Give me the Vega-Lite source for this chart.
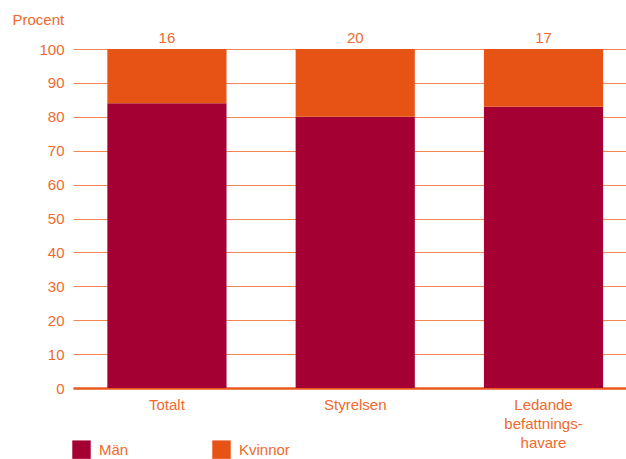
{
  "$schema": "https://vega.github.io/schema/vega-lite/v6.json",
  "width": 553,
  "height": 339,
  "autosize": {"type": "none"},
  "padding": {"left": 73, "top": 49, "right": 0, "bottom": 71},
  "background": "white",
  "config": {
    "view": {"stroke": null},
    "font": "Liberation Sans",
    "axis": {"labelFont": "Liberation Sans", "titleFont": "Liberation Sans"},
    "axisY": {
      "values": [0, 10, 20, 30, 40, 50, 60, 70, 80, 90, 100],
      "labelOverlap": false,
      "labelColor": "#ef6a2c",
      "labelFontSize": 15,
      "labelPadding": 9,
      "ticks": false,
      "domain": false,
      "grid": true,
      "gridColor": "#f07236",
      "gridWidth": 1,
      "gridOpacity": 0.85
    },
    "legend": {"labelFont": "Liberation Sans"}
  },
  "data": {
    "values": [
      {"kategori": "Totalt", "kon": "Män", "ordning": 1, "procent": 84},
      {"kategori": "Totalt", "kon": "Kvinnor", "ordning": 2, "procent": 16},
      {"kategori": "Styrelsen", "kon": "Män", "ordning": 1, "procent": 80},
      {"kategori": "Styrelsen", "kon": "Kvinnor", "ordning": 2, "procent": 20},
      {"kategori": "Ledande befattningshavare", "kon": "Män", "ordning": 1, "procent": 83},
      {"kategori": "Ledande befattningshavare", "kon": "Kvinnor", "ordning": 2, "procent": 17}
    ]
  },
  "encoding": {
    "x": {
      "field": "kategori",
      "type": "nominal",
      "sort": ["Totalt", "Styrelsen", "Ledande befattningshavare"],
      "scale": {"paddingInner": 0.367, "paddingOuter": 0.152, "align": 0.6},
      "axis": {
        "title": null,
        "labelAngle": 0,
        "labelColor": "#ef6a2c",
        "labelFontSize": 15,
        "labelPadding": 9,
        "labelLineHeight": 19,
        "labelBaseline": "top",
        "labelExpr": "datum.label == 'Ledande befattningshavare' ? ['Ledande', 'befattnings-', 'havare'] : datum.label",
        "ticks": false,
        "domain": true,
        "domainColor": "#e95a1c",
        "domainWidth": 2.5,
        "grid": false
      }
    }
  },
  "layer": [
    {
      "mark": {"type": "bar"},
      "encoding": {
        "y": {
          "field": "procent",
          "type": "quantitative",
          "stack": "zero",
          "scale": {"domain": [0, 100], "nice": false},
          "axis": {
            "title": "Procent",
            "titleAngle": 0,
            "titleAlign": "left",
            "titleBaseline": "alphabetic",
            "titleX": -61,
            "titleY": -25,
            "titleColor": "#ef6a2c",
            "titleFontSize": 15,
            "titleFontWeight": "normal",
            "values": [0, 10, 20, 30, 40, 50, 60, 70, 80, 90, 100]
          }
        },
        "color": {
          "field": "kon",
          "type": "nominal",
          "scale": {"domain": ["Män", "Kvinnor"], "range": ["#a50034", "#e65314"]},
          "legend": {
            "title": null,
            "orient": "none",
            "legendX": -1,
            "legendY": 391,
            "direction": "horizontal",
            "columns": 2,
            "gridAlign": "all",
            "columnPadding": 62,
            "symbolType": "square",
            "symbolSize": 340,
            "symbolStrokeWidth": 0,
            "symbolOpacity": 1,
            "labelColor": "#ef6a2c",
            "labelFontSize": 15,
            "labelOffset": 8,
            "padding": 0
          }
        },
        "order": {"field": "ordning", "type": "quantitative"}
      }
    },
    {
      "transform": [{"filter": "datum.kon == 'Kvinnor'"}],
      "mark": {"type": "text", "baseline": "bottom", "dy": -3, "fontSize": 15, "color": "#ef6a2c"},
      "encoding": {
        "y": {
          "datum": 100,
          "type": "quantitative",
          "axis": {
            "title": "Procent",
            "titleAngle": 0,
            "titleAlign": "left",
            "titleBaseline": "alphabetic",
            "titleX": -61,
            "titleY": -25,
            "titleColor": "#ef6a2c",
            "titleFontSize": 15,
            "titleFontWeight": "normal",
            "values": [0, 10, 20, 30, 40, 50, 60, 70, 80, 90, 100]
          }
        },
        "text": {"field": "procent", "type": "quantitative"}
      }
    }
  ]
}
